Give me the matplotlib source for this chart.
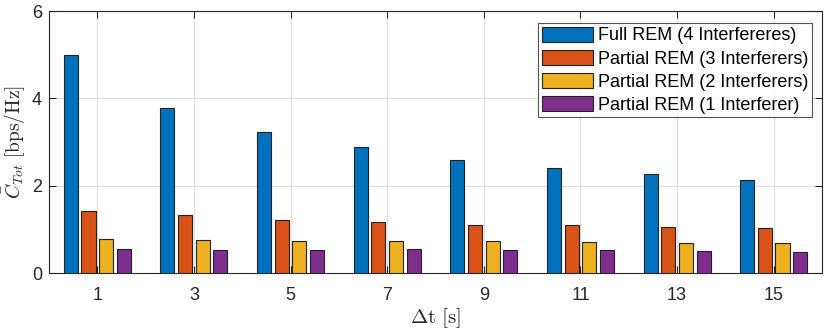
import matplotlib
matplotlib.use("Agg")
import matplotlib.pyplot as plt
import numpy as np

plt.rcParams['font.family'] = ['Liberation Sans', 'DejaVu Sans']
plt.rcParams['mathtext.fontset'] = 'cm'

dt = [1, 3, 5, 7, 9, 11, 13, 15]
full_rem4 = [5.00, 3.77, 3.22, 2.89, 2.58, 2.40, 2.26, 2.12]
partial_rem3 = [1.41, 1.32, 1.21, 1.165, 1.09, 1.10, 1.06, 1.03]
partial_rem2 = [0.78, 0.75, 0.73, 0.73, 0.73, 0.715, 0.69, 0.68]
partial_rem1 = [0.555, 0.53, 0.52, 0.555, 0.52, 0.53, 0.51, 0.49]
labels = ['Full REM (4 Interfereres)', 'Partial REM (3 Interferers)',
          'Partial REM (2 Interferers)', 'Partial REM (1 Interferer)']
colors = ['#0072BD', '#D95319', '#EDB120', '#7E2F8E']
series = [full_rem4, partial_rem3, partial_rem2, partial_rem1]

fig = plt.figure(figsize=(8.3, 3.33), dpi=100)
ax = fig.add_axes([49/830, 1-273/333, (822-49)/830, (273-11)/333])

x = np.array(dt, dtype=float)
step = 0.365
width = 0.29
for i, (vals, lab, c) in enumerate(zip(series, labels, colors)):
    ax.bar(x + (i - 1.5) * step, vals, width=width, color=c, edgecolor='#222222',
           linewidth=0.8, label=lab, zorder=3)

ax.set_xlim(0, 16)
ax.set_ylim(0, 6)
ax.set_xticks(dt)
ax.set_yticks([0, 2, 4, 6])
ax.grid(True, color='#dddddd', linewidth=0.8, zorder=0)
ax.set_axisbelow(True)
ax.tick_params(direction='in', top=True, right=True, labelsize=13, colors='#262626',
               length=5, width=0.8)
ax.tick_params(axis='x', pad=10)
ax.tick_params(axis='y', pad=5)
for s in ax.spines.values():
    s.set_color('#262626')
    s.set_linewidth(0.8)

ax.set_xlabel(r'$\Delta\mathrm{t}\ [\mathrm{s}]$', fontsize=15, color='#262626', labelpad=2)
ax.set_ylabel(r'$\bar{C}_{Tot}\ [\mathrm{bps/Hz}]$', fontsize=14, color='#262626', labelpad=3)

leg = ax.legend(loc='upper right', fontsize=13, frameon=True, fancybox=False,
                edgecolor='#262626', borderpad=0.2, labelspacing=0.3,
                handlelength=2.8, handleheight=0.9, handletextpad=0.3,
                borderaxespad=0, bbox_to_anchor=(0.987, 0.954))
leg.get_frame().set_linewidth(0.8)

fig.savefig('out.png', dpi=100)
